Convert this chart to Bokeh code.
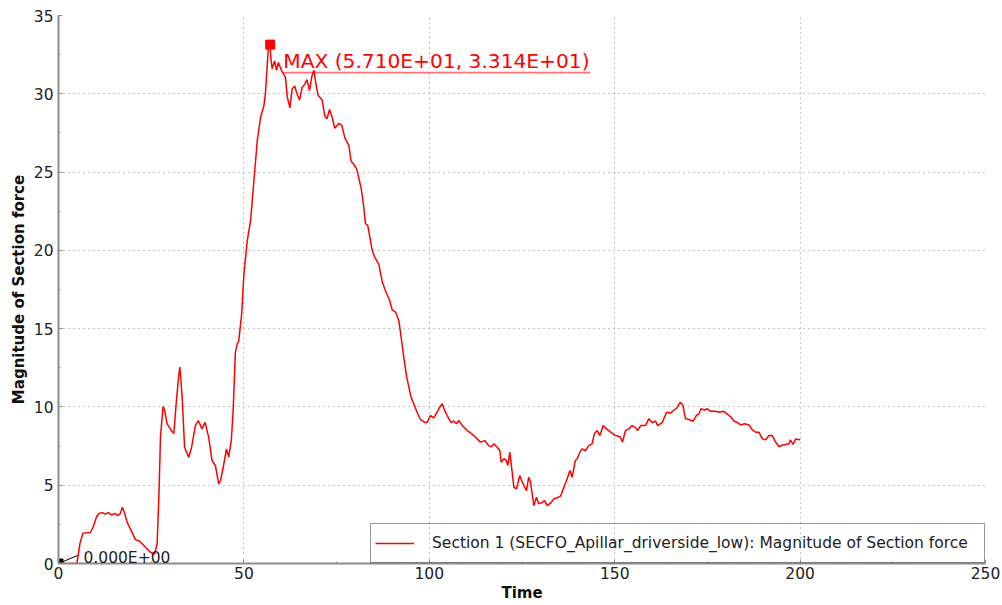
from bokeh.plotting import figure
from bokeh.models import Range1d, SingleIntervalTicker, Label
from bokeh.core.properties import value
from bokeh.embed import file_html
from bokeh.resources import INLINE

# Section force history (time, magnitude)
time = [0, 4.5, 5.0, 5.8, 6.6, 8.6, 9.3, 10.3, 10.9, 11.8, 12.6, 13.4, 14.3, 15.2, 16.0, 16.7,
        17.2, 17.7, 18.5, 19.4, 20.8, 21.7, 22.6, 23.6, 24.8, 25.9, 26.6, 27.1, 27.5, 28.2, 28.6,
        29.3, 30.4, 31.1, 31.8, 32.3, 32.7, 33.0, 33.4, 34.0, 35.1, 35.9, 36.9, 37.7, 38.7, 39.5,
        40.5, 41.4, 42.3, 43.2, 43.7, 44.6, 45.3, 45.9, 46.6, 47.1, 47.7, 48.2, 48.6, 49.4, 50.0,
        50.9, 51.8, 52.7, 53.6, 54.5, 55.4, 55.8, 56.6, 57.1, 57.2, 57.6, 58.3, 58.8, 59.3, 60.3,
        61.2, 61.7, 62.4, 63.0, 63.7, 64.3, 65.0, 65.7, 66.4, 67.0, 67.7, 68.3, 68.9, 69.3, 70.0,
        71.1, 71.8, 72.4, 73.1, 73.8, 74.5, 75.6, 76.4, 77.2, 78.3, 78.9, 79.6, 80.4, 81.0, 81.6,
        82.2, 82.8, 83.4, 84.0, 84.6, 85.2, 86.4, 87.3, 88.2, 89.3, 90.0, 90.9, 91.8, 92.4, 93.1,
        93.9, 94.5, 95.1, 95.8, 96.7, 97.6, 98.7, 99.4, 100.3, 101.2, 102.1, 102.8, 103.5, 104.1,
        104.8, 105.9, 106.6, 107.3, 108.0, 108.9, 110.2, 111.1, 112.0, 112.9, 113.8, 114.9, 116.0,
        116.7, 117.4, 118.3, 119.0, 119.4, 120.1, 120.7, 121.2, 121.7, 122.4, 122.8, 123.5, 124.4,
        124.9, 125.5, 126.2, 126.8, 127.3, 128.2, 128.9, 129.5, 130.4, 131.1, 131.8, 132.7, 133.6,
        134.5, 135.4, 136.3, 137.2, 137.9, 138.5, 139.4, 139.9, 140.6, 141.2, 142.1, 143.0, 143.9,
        144.5, 145.3, 146.0, 146.9, 147.8, 148.9, 150.2, 151.5, 152.1, 152.9, 153.8, 154.7, 155.5,
        156.2, 157.0, 158.3, 159.2, 160.1, 161.0, 161.6, 162.8, 164.0, 165.0, 165.9, 166.8, 167.7,
        168.4, 169.1, 170.0, 171.2, 172.0, 172.7, 173.3, 174.2, 175.0, 175.8, 177.1, 178.3, 179.3,
        180.3, 181.4, 182.1, 183.0, 184.0, 185.0, 186.2, 187.1, 188.0, 188.9, 189.8, 190.7, 191.6,
        192.5, 193.4, 194.3, 195.2, 196.1, 197.0, 197.4, 198.1, 198.8, 199.7, 200.0]
force = [0, 0, 0.05, 1.3, 1.94, 1.98, 2.3, 3.0, 3.2, 3.25, 3.15, 3.25, 3.1, 3.2, 3.05, 3.2,
         3.6, 3.3, 2.64, 2.2, 1.51, 1.45, 1.26, 1.0, 0.72, 0.6, 1.26, 4.5, 8.07, 10.03, 9.8,
         8.92, 8.5, 8.3, 10.4, 11.7, 12.54, 11.8, 10.4, 7.43, 6.79, 7.43, 8.81, 9.13, 8.6, 9.02,
         8.07, 6.58, 6.26, 5.09, 5.3, 6.37, 7.32, 6.8, 7.85, 9.77, 13.5, 14.03, 14.2, 15.94, 18.5,
         20.6, 21.9, 24.46, 27.0, 28.5, 29.25, 30.0, 32.97, 33.14, 32.5, 31.6, 32.1, 31.5, 32.0, 31.4,
         31.06, 29.8, 29.1, 30.3, 30.5, 30.0, 29.6, 30.4, 30.6, 30.9, 30.2, 31.1, 31.5, 30.8, 29.9,
         29.6, 28.6, 28.4, 29.0, 28.5, 27.8, 28.1, 28.0, 27.2, 26.7, 25.7, 25.5, 25.2, 24.6, 24.0,
         23.0, 21.7, 21.6, 20.8, 20.0, 19.6, 19.1, 18.0, 17.4, 16.8, 16.2, 16.05, 15.5, 14.45, 13.2,
         11.9, 11.26, 10.6, 10.2, 9.66, 9.2, 9.02, 9.0, 9.45, 9.3, 9.66, 9.98, 10.2, 9.8,
         9.45, 9.0, 9.1, 8.92, 9.13, 8.81, 8.49, 8.35, 8.17, 7.96, 7.75, 7.85, 7.53,
         7.45, 7.64, 7.43, 7.22, 6.47, 6.69, 6.6, 6.26, 7.11, 5.73, 4.87, 4.77, 5.62,
         5.3, 4.98, 4.66, 5.51, 5.19, 3.7, 4.23, 3.81, 3.9, 4.02, 3.7, 3.85, 4.13,
         4.2, 4.3, 4.87, 5.41, 5.94, 5.51, 6.58, 6.69, 7.11, 7.32, 7.2, 7.53, 7.64,
         8.28, 8.49, 8.17, 8.81, 8.6, 8.39, 8.17, 8.1, 7.75, 8.49, 8.6, 8.81, 8.7,
         8.5, 8.81, 8.81, 9.24, 9.0, 9.1, 8.81, 9.0, 9.66, 9.6, 9.77, 9.95, 10.3,
         10.1, 9.24, 9.2, 9.09, 9.45, 9.56, 9.88, 9.8, 9.88, 9.73, 9.73, 9.66, 9.73,
         9.56, 9.34, 9.1, 9.02, 8.85, 8.92, 8.85, 8.54, 8.39, 8.39, 7.96, 7.9, 8.17,
         8.17, 7.75, 7.47, 7.55, 7.6, 7.65, 7.9, 7.6, 7.96, 7.9, 7.95]

series_label = "Section 1 (SECFO_Apillar_driverside_low): Magnitude of Section force"
x_title = "Time"
y_title = "Magnitude of Section force"

FONT = "DejaVu Sans"
AXIS_GREY = "#8c8c8c"

p = figure(width=1002, height=605, x_range=Range1d(0, 250), y_range=Range1d(0, 35),
           output_backend="svg", toolbar_location=None,
           min_border_left=58, min_border_right=17, min_border_top=15, min_border_bottom=42)
p.outline_line_color = None
p.background_fill_color = "white"

p.xaxis.ticker = SingleIntervalTicker(interval=50, num_minor_ticks=2)
p.yaxis.ticker = SingleIntervalTicker(interval=5, num_minor_ticks=2)
p.xaxis.axis_label = x_title
p.yaxis.axis_label = y_title
for ax in (p.xaxis, p.yaxis):
    ax.axis_line_color = AXIS_GREY
    ax.axis_line_width = 2
    ax.major_tick_line_color = AXIS_GREY
    ax.minor_tick_line_color = AXIS_GREY
    ax.major_tick_in = 4
    ax.major_tick_out = 0
    ax.minor_tick_in = 2
    ax.minor_tick_out = 0
    ax.major_label_text_font = FONT
    ax.major_label_text_font_size = "15.5px"
    ax.major_label_text_color = "#222222"
    ax.axis_label_text_font = FONT
    ax.axis_label_text_font_size = "15px"
    ax.axis_label_text_font_style = "bold"
    ax.axis_label_text_color = "#111111"
p.xaxis.major_label_standoff = 3
p.xaxis.axis_label_standoff = 2
p.yaxis.major_label_standoff = 5
p.yaxis.axis_label_standoff = 3

for g in (p.xgrid, p.ygrid):
    g.grid_line_color = "#888888"
    g.grid_line_dash = "1 4"
    g.grid_line_width = 1

# force curve
p.line(time, force, color="#ff0000", line_width=1.5, legend_label=series_label)

px_per_t = (985 - 58) / 250.0
px_per_f = (563 - 15) / 35.0

# maximum marker and label
i_max = max(range(len(force)), key=lambda i: force[i])
t_max, f_max = time[i_max], force[i_max]
p.scatter([t_max], [f_max], marker="square", size=9, color="#ff0000")
max_text = f"MAX ({t_max:.3E}, {f_max:.3E})"
p.add_layout(Label(x=t_max, y=f_max, x_offset=13, y_offset=-16, text=max_text,
                   text_font=FONT, text_font_size="20.2px", text_color="#ff0000",
                   text_baseline="alphabetic"))
p.segment(x0=[t_max + 13 / px_per_t], y0=[f_max - 28 / px_per_f],
          x1=[t_max + 320 / px_per_t], y1=[f_max - 28 / px_per_f],
          color="#ff0000", alpha=0.55, line_width=1.6)

# minimum marker and label
i_min = min(range(len(force)), key=lambda i: force[i])
t_min, f_min = time[i_min], force[i_min]
p.scatter([t_min], [f_min], marker="square", size=9, color="black")
p.segment(x0=[t_min], y0=[f_min], x1=[t_min + 19 / px_per_t], y1=[f_min + 8 / px_per_f],
          color="black", line_width=1)
p.add_layout(Label(x=t_min, y=f_min, x_offset=25, y_offset=5.5, text=f"{f_min:.3E}",
                   text_font=FONT, text_font_size="15.5px", text_color="#222222",
                   text_baseline="alphabetic"))

lg = p.legend[0]
lg.location = "bottom_right"
lg.margin = 0
lg.padding = 4
lg.spacing = 0
lg.border_line_color = "#333333"
lg.border_line_width = 1
lg.background_fill_alpha = 0
lg.glyph_width = 39
lg.glyph_height = 30
lg.label_height = 30
lg.label_width = 548
lg.label_standoff = 18
lg.label_text_font = FONT
lg.label_text_font_size = "15.5px"
lg.label_text_color = "#222222"

open("out.html", "w").write(file_html(p, INLINE))
